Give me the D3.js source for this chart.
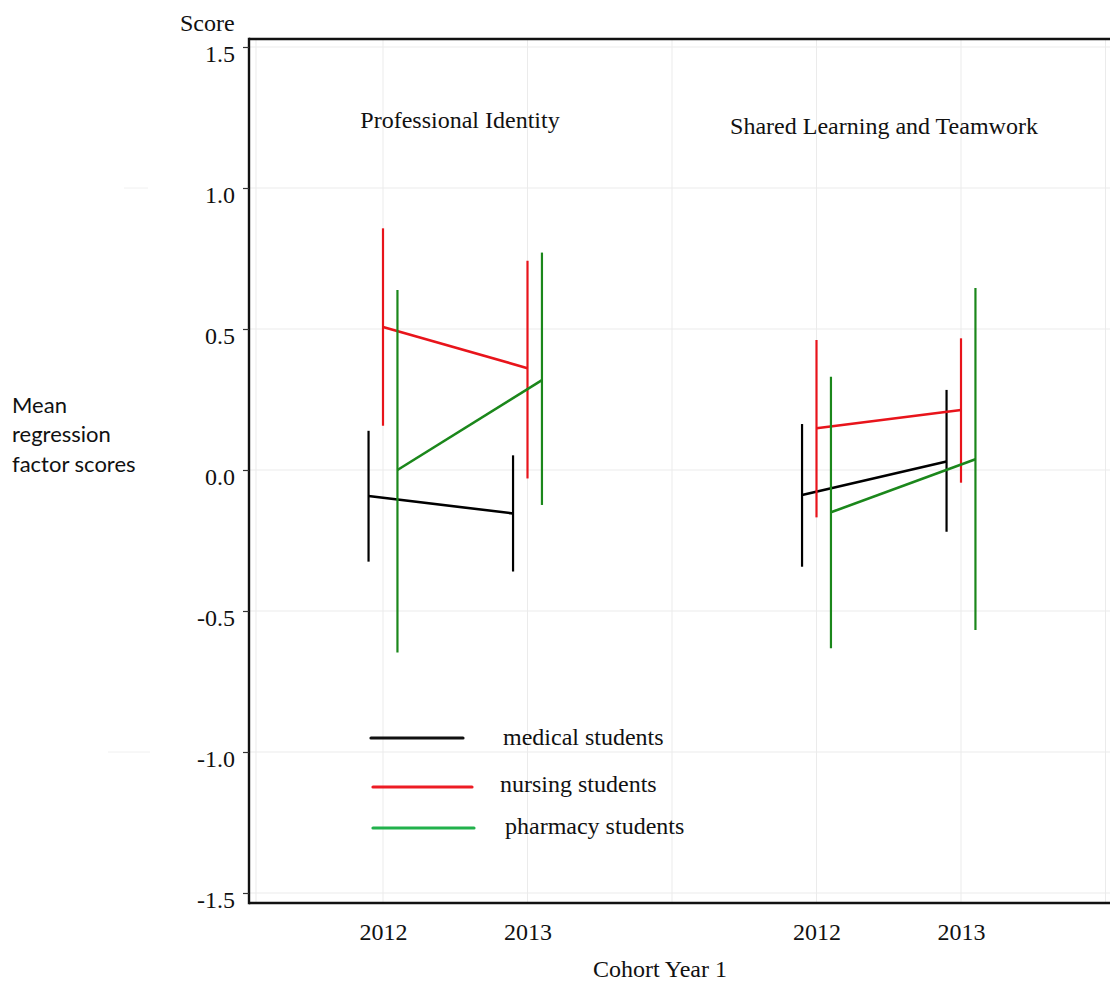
<!DOCTYPE html>
<html>
<head>
<meta charset="utf-8">
<script src="https://cdn.jsdelivr.net/npm/d3@7"></script>
<style>
  html, body { margin: 0; padding: 0; background: #fff; }
  svg { display: block; }
</style>
</head>
<body>
<svg id="chart" width="1110" height="983"></svg>
<script>
// Factor groups, cohort years and student groups
const factors = ["Professional Identity", "Shared Learning and Teamwork"];
const cohortYears = ["2012", "2013", "2012", "2013"];
const slotPositions = [1, 2, 4, 5];
const gridPositions = [1, 2, 3, 4, 5, 6];
const studentGroups = ["medical students", "nursing students", "pharmacy students"];
const yTicks = [-1.5, -1.0, -0.5, 0.0, 0.5, 1.0, 1.5];

// Mean regression factor scores with interval limits,
// ordered PI 2012, PI 2013, SLT 2012, SLT 2013
const medicalMean = [-0.092, -0.154, -0.089, 0.030];
const medicalLow  = [-0.325, -0.360, -0.343, -0.219];
const medicalHigh = [0.139, 0.052, 0.163, 0.284];

const nursingMean = [0.507, 0.361, 0.148, 0.213];
const nursingLow  = [0.157, -0.030, -0.168, -0.045];
const nursingHigh = [0.857, 0.742, 0.461, 0.467];

const pharmacyMean = [0.000, 0.319, -0.150, 0.038];
const pharmacyLow  = [-0.647, -0.124, -0.632, -0.567];
const pharmacyHigh = [0.638, 0.771, 0.331, 0.645];

const seriesData = [
  { name: studentGroups[0], mean: medicalMean, low: medicalLow, high: medicalHigh, color: "#000000", key: "#111111", dodge: -0.1 },
  { name: studentGroups[1], mean: nursingMean, low: nursingLow, high: nursingHigh, color: "#e8141b", key: "#ed1c24", dodge: 0 },
  { name: studentGroups[2], mean: pharmacyMean, low: pharmacyLow, high: pharmacyHigh, color: "#1b871b", key: "#22b14c", dodge: 0.1 }
];

const svg = d3.select("#chart");
const serif = "'Liberation Serif', 'Times New Roman', serif";

const x = d3.scaleLinear().domain([1, 6]).range([383, 1105.5]);
const y = d3.scaleLinear().domain([-1.5, 1.5]).range([893, 47]);

const frameLeft = 249, frameTop = 39, frameBottom = 903, frameRight = 1110;
const panelLeft = 256;

// Light grid
const grid = svg.append("g").attr("stroke", "#ebebeb").attr("stroke-width", 1);
grid.selectAll("line.h").data(yTicks).join("line")
  .attr("class", "h")
  .attr("x1", frameLeft).attr("x2", frameRight)
  .attr("y1", d => y(d)).attr("y2", d => y(d));
grid.selectAll("line.v").data(gridPositions).join("line")
  .attr("class", "v")
  .attr("x1", d => x(d)).attr("x2", d => x(d))
  .attr("y1", frameTop).attr("y2", frameBottom);
grid.append("line")
  .attr("x1", panelLeft).attr("x2", panelLeft)
  .attr("y1", frameTop).attr("y2", frameBottom);

// faint stray gridline stubs at the far left
svg.append("g").attr("stroke", "#f0f0f0").attr("stroke-width", 1)
  .selectAll("line").data([[124, 148, 1.0], [108, 150, -1.0]]).join("line")
  .attr("x1", d => d[0]).attr("x2", d => d[1])
  .attr("y1", d => y(d[2])).attr("y2", d => y(d[2]));

// Panel titles
svg.append("text")
  .attr("x", 460).attr("y", 128)
  .attr("text-anchor", "middle")
  .attr("font-family", serif).attr("font-size", 24)
  .attr("fill", "#111")
  .text(factors[0]);
svg.append("text")
  .attr("x", 884).attr("y", 134)
  .attr("text-anchor", "middle")
  .attr("font-family", serif).attr("font-size", 24)
  .attr("fill", "#111")
  .text(factors[1]);

// Error bars and connecting lines of means
const marks = svg.append("g");
seriesData.forEach(s => {
  const idx = d3.range(slotPositions.length);
  marks.append("g").selectAll("line").data(idx).join("line")
    .attr("x1", i => x(slotPositions[i] + s.dodge))
    .attr("x2", i => x(slotPositions[i] + s.dodge))
    .attr("y1", i => y(s.low[i]))
    .attr("y2", i => y(s.high[i]))
    .attr("stroke", s.color)
    .attr("stroke-width", 2.2);

  const line = d3.line()
    .x(i => x(slotPositions[i] + s.dodge))
    .y(i => y(s.mean[i]));
  [[0, 1], [2, 3]].forEach(pair => {
    marks.append("path")
      .attr("d", line(pair))
      .attr("fill", "none")
      .attr("stroke", s.color)
      .attr("stroke-width", 2.6);
  });
});

// Frame
const frame = svg.append("g").attr("stroke", "#111").attr("stroke-width", 2.4).attr("fill", "none");
frame.append("line").attr("x1", frameLeft).attr("x2", frameRight).attr("y1", frameTop).attr("y2", frameTop);
frame.append("line").attr("x1", frameLeft).attr("x2", frameRight).attr("y1", frameBottom).attr("y2", frameBottom);

// Y axis
const yAxis = d3.axisLeft(y)
  .tickValues(yTicks)
  .tickSize(6)
  .tickPadding(8)
  .tickFormat(d => d.toFixed(1));
const yg = svg.append("g")
  .attr("transform", `translate(${frameLeft},0)`)
  .call(yAxis);
yg.select(".domain")
  .attr("d", `M0,${frameTop - 1.2}V${frameBottom + 1.2}`)
  .attr("stroke", "#111").attr("stroke-width", 2.4);
yg.selectAll(".tick line").attr("stroke", "#333").attr("stroke-width", 1.2);
yg.selectAll(".tick text")
  .attr("font-family", serif).attr("font-size", 24)
  .attr("fill", "#111")
  .attr("dy", "14px");

// X axis labels
const xAxis = d3.axisBottom(x)
  .tickValues(slotPositions)
  .tickSize(0)
  .tickPadding(20)
  .tickFormat((d, i) => cohortYears[i]);
const xg = svg.append("g")
  .attr("transform", `translate(0,${frameBottom})`)
  .call(xAxis);
xg.select(".domain").remove();
xg.selectAll(".tick text")
  .attr("font-family", serif).attr("font-size", 24)
  .attr("fill", "#111")
  .attr("dy", "0.71em");

// Axis titles
svg.append("text")
  .attr("x", 180).attr("y", 31)
  .attr("font-family", serif).attr("font-size", 24)
  .attr("fill", "#111")
  .text("Score");
svg.append("text")
  .attr("x", 660).attr("y", 977)
  .attr("text-anchor", "middle")
  .attr("font-family", serif).attr("font-size", 24)
  .attr("fill", "#111")
  .text("Cohort Year 1");

const yTitle = svg.append("text")
  .attr("font-family", "Lato, 'Open Sans', sans-serif")
  .attr("font-size", 22)
  .attr("fill", "#111");
["Mean", "regression", "factor scores"].forEach((t, i) => {
  yTitle.append("tspan").attr("x", 12).attr("y", 413 + i * 29.3).text(t);
});

// Legend
const legendRows = [
  { x1: 371, x2: 463, y: 738, tx: 503, ty: 745 },
  { x1: 373, x2: 472, y: 787, tx: 500, ty: 792 },
  { x1: 373, x2: 474, y: 828, tx: 505, ty: 834 }
];
const legend = svg.append("g");
seriesData.forEach((s, i) => {
  const r = legendRows[i];
  legend.append("line")
    .attr("x1", r.x1).attr("x2", r.x2)
    .attr("y1", r.y).attr("y2", r.y)
    .attr("stroke", s.key).attr("stroke-width", 3.2)
    .attr("stroke-linecap", "round");
  legend.append("text")
    .attr("x", r.tx).attr("y", r.ty)
    .attr("font-family", serif).attr("font-size", 24)
    .attr("fill", "#111")
    .text(s.name);
});
</script>
</body>
</html>
